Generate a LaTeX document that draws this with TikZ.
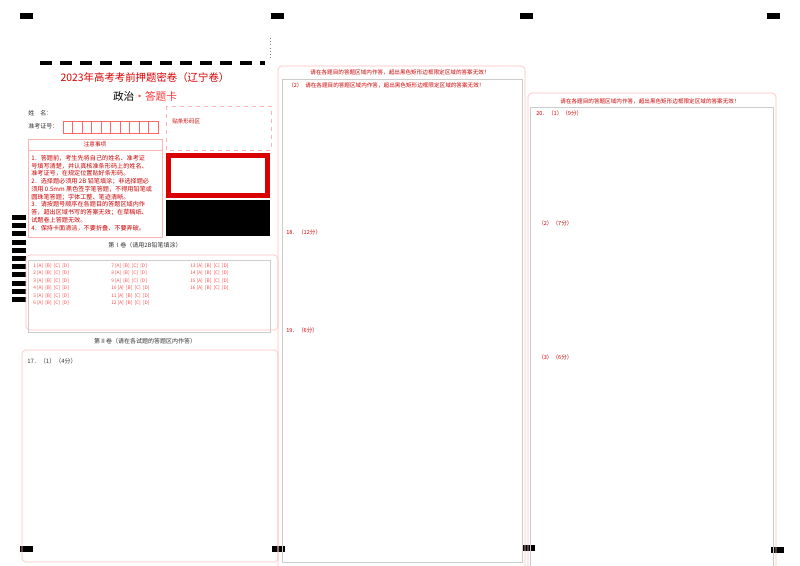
\documentclass[tikz,border=0pt]{standalone}
\usepackage{fontspec}
\setmainfont{Liberation Serif}
\newfontfamily\cjk{Noto Sans CJK SC}
\begin{document}
\begin{tikzpicture}[x=0.75pt,y=-0.75pt,
  regmark/.style={fill=black},
  pinkbox/.style={draw=red!25,rounded corners=3pt,line width=0.5pt},
  graybox/.style={draw=black!20,line width=0.6pt},
  rtxt/.style={text=red!80!black,font=\cjk\fontsize{4.2}{5}\selectfont,inner sep=0pt},
  btxt/.style={text=black!80,font=\cjk\fontsize{4.5}{5.5}\selectfont,inner sep=0pt},
  chtxt/.style={text=red!70,font=\cjk\fontsize{3.6}{4}\selectfont,inner sep=0pt,anchor=west}]
\useasboundingbox (0,0) rectangle (800,566);
\fill[white] (0,0) rectangle (800,566);
% registration marks
\foreach \x/\y in {20/13,271/13,520/13,767/13,20/546,272/546,522/545,771/547}
  \fill[regmark] (\x,\y) rectangle ++(13,6);
\foreach \i in {0,...,10}
  \fill[regmark] (12,215+8.2*\i) rectangle ++(14,5);
\draw[line width=3pt,dash pattern=on 9pt off 6pt] (40,63) -- (265,63);
\draw[black!50,dotted] (270,38) -- (270,58);
% title
\node[text=red!85!black,font=\cjk\fontsize{7.8}{9}\selectfont,inner sep=0pt] (title) at (145,78) {2023年高考考前押题密卷（辽宁卷）};
\node[font=\cjk\fontsize{8}{9}\selectfont,inner sep=0pt] (sub) at (145,96) {政治\textcolor{red!80}{·答题卡}};
\node[btxt,anchor=west] (name) at (28,113) {姓\quad 名：};
\node[btxt,anchor=west] (zkz) at (28,126) {准考证号：};
\foreach \i in {0,...,9}
  \draw[red!60,line width=0.5pt] (63+9.5*\i,121) rectangle ++(9.5,12);
% notice
\draw[red!30] (28,139) rectangle (162,150);
\node[rtxt] (zy) at (95,144.5) {注意事项};
\draw[red!30] (28,150) rectangle (162,237);
\node[rtxt,anchor=north west,align=left,font=\cjk\fontsize{4.6}{5.8}\selectfont] (notes) at (31,155) {1．答题前，考生先将自己的姓名、准考证\\号填写清楚，并认真核准条形码上的姓名、\\准考证号，在规定位置贴好条形码。\\2．选择题必须用 2B 铅笔填涂；非选择题必\\须用 0.5mm 黑色签字笔答题，不得用铅笔或\\圆珠笔答题；字体工整、笔迹清晰。\\3．请按题号顺序在各题目的答题区域内作\\答，超出区域书写的答案无效；在草稿纸、\\试题卷上答题无效。\\4．保持卡面清洁，不要折叠、不要弄破。};
% barcode etc
\draw[red!30,dashed] (166,106) rectangle (271,150);
\node[rtxt,anchor=west] (tm) at (172,121) {贴条形码区};
\fill[red!85!black] (166,153) rectangle (270,198);
\fill[white] (171,158) rectangle (265,193);
\fill[black] (166,200) rectangle (270,236);
% section I
\node[btxt] (s1) at (145,245) {第Ⅰ卷（请用2B铅笔填涂）};
\draw[pinkbox] (26,255) rectangle (278,330);
\draw[graybox] (28,260) rectangle (270,332);
\foreach \n [count=\k from 0] in {1,...,6}
  \node[chtxt] at (33,266+7.4*\k) {\n\ [A]\ \ [B]\ \ [C]\ \ [D]};
\foreach \n [count=\k from 0] in {7,...,12}
  \node[chtxt] at (111,266+7.4*\k) {\n\ [A]\ \ [B]\ \ [C]\ \ [D]};
\foreach \n [count=\k from 0] in {13,...,16}
  \node[chtxt] at (190,266+7.4*\k) {\n\ [A]\ \ [B]\ \ [C]\ \ [D]};
\node[btxt] (s2) at (145,341) {第Ⅱ卷（请在各试题的答题区内作答）};
\draw[pinkbox] (22,350) rectangle (278,562);
\node[btxt,anchor=west] (q17) at (27,361) {17．（1）（4分）};
% middle column
\draw[pinkbox] (278,66) rectangle (525,570);
\node[rtxt] (h1) at (400,72) {请在各题目的答题区域内作答，超出黑色矩形边框限定区域的答案无效！};
\draw[graybox] (282,79) rectangle (522,562);
\node[rtxt,anchor=west] (q2) at (288,85) {（2）};
\node[rtxt,anchor=west] (h1b) at (305,85) {请在各题目的答题区域内作答，超出黑色矩形边框限定区域的答案无效！};
\node[rtxt,anchor=west] (q18) at (286,232) {18．（12分）};
\node[rtxt,anchor=west] (q19) at (286,330) {19．（6分）};
% right column
\draw[pinkbox] (528,93) rectangle (776,570);
\node[rtxt] (h2) at (650,101) {请在各题目的答题区域内作答，超出黑色矩形边框限定区域的答案无效！};
\draw[graybox] (530,107) rectangle (773,570);
\node[rtxt,anchor=west] (q20) at (536,113) {20．（1）（9分）};
\node[rtxt,anchor=west] (q20b) at (538,223) {（2）（7分）};
\node[rtxt,anchor=west] (q20c) at (538,357) {（3）（6分）};
\end{tikzpicture}
\end{document}
